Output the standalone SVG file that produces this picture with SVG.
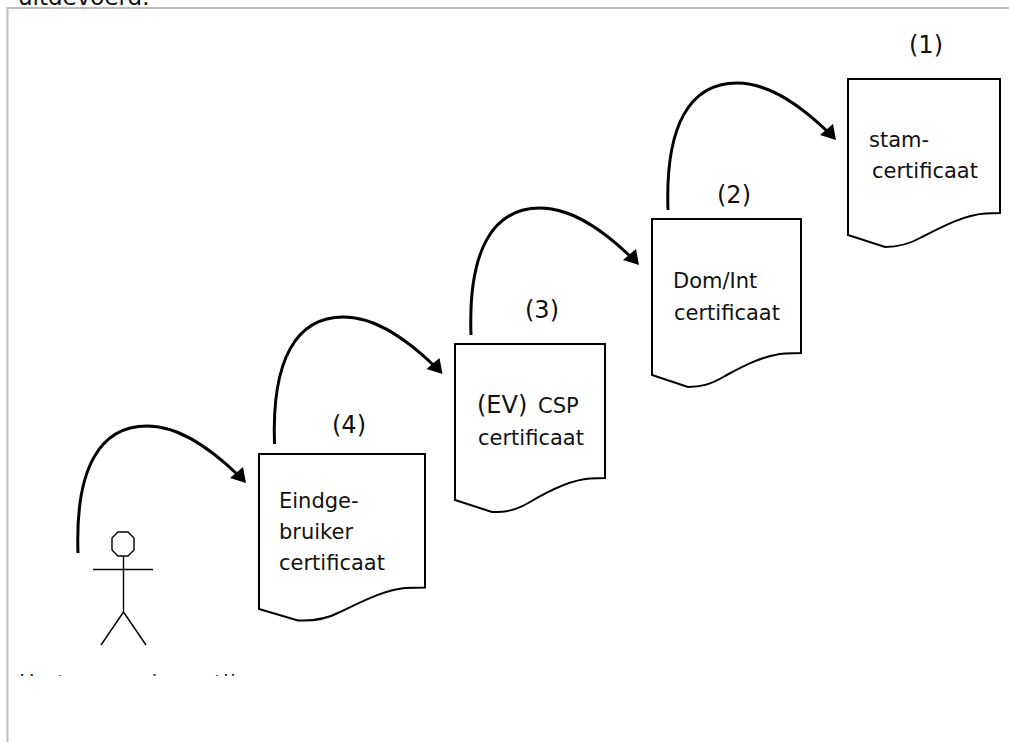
<svg xmlns="http://www.w3.org/2000/svg" width="1009" height="742" viewBox="0 0 1009 742">
<style>
text{font-family:"DejaVu Sans","Verdana",sans-serif;fill:#111}
.l{font-size:24px}
.c{font-size:21px}
.doc{fill:#fff;stroke:#000;stroke-width:2}
.arc{fill:none;stroke:#000;stroke-width:3}
.fig{fill:none;stroke:#000;stroke-width:1.4}
.frame{fill:none;stroke:#bdbdbd;stroke-width:2}
</style>
<defs>
<clipPath id="topclip"><rect x="0" y="0" width="400" height="5"/></clipPath>
<clipPath id="botclip"><rect x="0" y="673.500" width="400" height="2.200"/></clipPath>
<path id="a" d="M0 0C-3 -85 22 -127 69 -127C103 -127 135 -102 160 -78"/>
<path id="h" d="M168 -70L152 -75L165 -86Z"/>
</defs>
<rect width="1009" height="742" fill="#fff"/>
<path class="frame" d="M7.500 742V8H1009"/>
<text x="18" y="5" font-size="23" clip-path="url(#topclip)">uitgevoerd.</text>
<text y="690" font-size="21" clip-path="url(#botclip)"><tspan x="19">H</tspan><tspan x="57">t</tspan><tspan x="144">d</tspan><tspan x="214">t</tspan><tspan x="223">l</tspan><tspan x="230">l</tspan></text>
<g id="connectors">
<g id="c0" transform="translate(78,553)"><use href="#a" class="arc"/><use href="#h"/></g>
<g id="c1" transform="translate(274.500,444)"><use href="#a" class="arc"/><use href="#h"/></g>
<g id="c2" transform="translate(471,335)"><use href="#a" class="arc"/><use href="#h"/></g>
<g id="c3" transform="translate(668,210)"><use href="#a" class="arc"/><use href="#h"/></g>
</g>
<g id="person" class="fig"><path d="M118 532H128L134 538V550L128 556H118L112 550V538Z"/><path d="M123.500 556V612M93 569.500H153M123.500 612L101 645M123.500 612L146 645"/></g>
<g id="doc4"><path class="doc" d="M259 454H425V587.500L405 588C385 590 365 600 340 612C325 620 310 621 298 620.500L259 609Z"/><text class="l" x="332" y="433">(4)</text><text class="c" x="279" y="508">Eindge-</text><text class="c" x="279" y="539">bruiker</text><text class="c" x="279" y="570">certificaat</text></g>
<g id="doc3"><path class="doc" d="M455 344H605V478L590 478.500C570 480 550 490 530 502C515 511 505 512 492 512L455 500Z"/><text class="l" x="525" y="318">(3)</text><text x="477" y="413" font-size="24">(EV)</text><text x="538" y="413" font-size="21">CSP</text><text class="c" x="478" y="445">certificaat</text></g>
<g id="doc2"><path class="doc" d="M652 219H801V353L785 353.500C765 355 745 365 725 376C710 385 700 387 688 387L652 375Z"/><text class="l" x="717" y="203">(2)</text><text class="c" x="673" y="288">Dom/Int</text><text class="c" x="674" y="320">certificaat</text></g>
<g id="doc1"><path class="doc" d="M848 79H1000V213L985 213.500C965 215 945 225 922 237C908 245 897 247 885 247L848 235Z"/><text class="l" x="909" y="53">(1)</text><text class="c" x="869" y="147">stam-</text><text class="c" x="872" y="178">certificaat</text></g>
</svg>
